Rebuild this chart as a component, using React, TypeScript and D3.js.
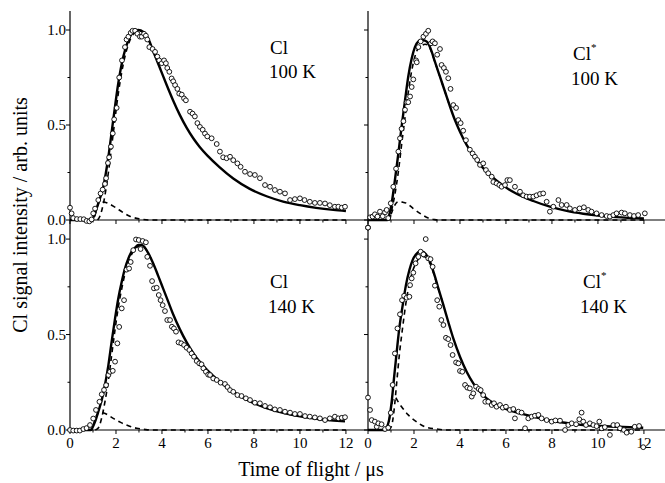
import React from 'react';
import * as d3 from 'd3';

type Pt = [number, number];

// ---- axis ticks ----
const TIME_TICKS = [0, 1, 2, 3, 4, 5, 6, 7, 8, 9, 10, 11, 12];
const TIME_LABELS = [0, 2, 4, 6, 8, 10, 12];
const SIGNAL_TICKS = [0, 0.25, 0.5, 0.75, 1.0];
const SIGNAL_LABELS = [0, 0.5, 1.0];

// ---- Cl, 100 K ----
const CL_100_DATA: Pt[] = [
  [0, 0.065], [0.07, 0.035], [0.14, 0.01], [0.3, 0.005], [0.45, 0.005], [0.6, 0.004], [0.72, -0.005], [0.84, -0.007],
  [0.94, 0.003], [1.01, 0.035], [1.09, 0.06], [1.23, 0.105], [1.33, 0.14], [1.42, 0.16], [1.52, 0.19], [1.57, 0.22],
  [1.65, 0.3], [1.7, 0.33], [1.78, 0.386], [1.86, 0.456], [1.92, 0.53], [2.03, 0.59], [2.14, 0.75], [2.26, 0.84],
  [2.39, 0.91], [2.46, 0.95], [2.54, 0.965], [2.64, 0.985], [2.72, 0.996], [2.83, 0.996], [2.93, 0.98], [3.04, 0.965],
  [3.12, 0.965], [3.22, 0.98], [3.3, 0.97], [3.36, 0.95], [3.45, 0.91], [3.59, 0.9], [3.7, 0.885], [3.8, 0.86],
  [3.88, 0.84], [3.99, 0.825], [4.09, 0.84], [4.17, 0.825], [4.23, 0.8], [4.32, 0.78], [4.42, 0.745], [4.49, 0.73],
  [4.57, 0.71], [4.67, 0.69], [4.75, 0.665], [4.86, 0.66], [4.96, 0.64], [5.04, 0.63], [5.22, 0.57], [5.33, 0.56],
  [5.43, 0.545], [5.54, 0.51], [5.65, 0.49], [5.77, 0.475], [5.87, 0.455], [5.97, 0.44], [6.16, 0.43], [6.38, 0.4],
  [6.52, 0.36], [6.66, 0.33], [6.81, 0.325], [6.96, 0.333], [7.1, 0.315], [7.28, 0.298], [7.42, 0.28], [7.61, 0.254],
  [7.83, 0.242], [8.04, 0.237], [8.26, 0.22], [8.48, 0.184], [8.7, 0.175], [8.91, 0.158], [9.13, 0.149], [9.35, 0.14],
  [9.57, 0.105], [9.78, 0.11], [10.0, 0.114], [10.2, 0.105], [10.43, 0.096], [10.65, 0.09], [10.87, 0.09], [11.09, 0.087],
  [11.3, 0.078], [11.52, 0.07], [11.67, 0.07], [11.82, 0.065], [11.96, 0.07],
];
const CL_100_FIT: Pt[] = [
  [0, 0], [0.95, 0], [1.0, 0.01], [1.23, 0.088], [1.45, 0.175], [1.67, 0.333], [1.88, 0.526], [2.1, 0.72], [2.32, 0.86],
  [2.54, 0.947], [2.75, 0.99], [2.97, 1.0], [3.19, 0.99], [3.41, 0.952], [3.62, 0.888], [3.91, 0.8], [4.2, 0.712],
  [4.49, 0.628], [4.78, 0.552], [5.07, 0.486], [5.36, 0.43], [5.65, 0.383], [6.0, 0.336], [6.5, 0.278], [7.1, 0.218],
  [7.8, 0.165], [8.55, 0.125], [9.27, 0.097], [10.0, 0.078], [10.7, 0.064], [11.45, 0.053], [12.0, 0.047],
];
const CL_100_FAST: Pt[] = [
  [0, 0], [1.0, 0], [1.1, 0.03], [1.2, 0.075], [1.3, 0.093], [1.45, 0.095], [1.65, 0.088], [1.95, 0.068], [2.3, 0.04],
  [2.6, 0.02], [3.0, 0.006], [3.5, 0], [12, 0],
];
const CL_100_SLOW: Pt[] = [
  [1.2, 0], [1.3, 0.02], [1.45, 0.085], [1.67, 0.25], [1.88, 0.455], [2.1, 0.665], [2.32, 0.822], [2.54, 0.925],
  [2.75, 0.978], [2.97, 0.995], [3.19, 0.988], [3.41, 0.952], [3.62, 0.888],
];

// ---- Cl*, 100 K ----
const CLS_100_DATA: Pt[] = [
  [0, -0.04], [0.09, 0.014], [0.2, 0.018], [0.3, 0.03], [0.41, 0.018], [0.52, 0.044], [0.64, 0.02], [0.74, 0.04],
  [0.81, 0.053], [0.88, 0.01], [0.99, 0.088], [1.1, 0.175], [1.22, 0.27], [1.32, 0.36], [1.39, 0.43], [1.46, 0.48],
  [1.54, 0.52], [1.61, 0.58], [1.68, 0.62], [1.75, 0.62], [1.83, 0.65], [1.9, 0.7], [1.97, 0.74], [2.09, 0.84],
  [2.12, 0.83], [2.19, 0.91], [2.29, 0.94], [2.41, 0.965], [2.52, 0.98], [2.62, 0.996], [2.74, 0.93], [2.81, 0.94],
  [2.91, 0.93], [3.01, 0.87], [3.13, 0.9], [3.2, 0.816], [3.3, 0.8], [3.39, 0.78], [3.49, 0.746], [3.59, 0.69],
  [3.71, 0.605], [3.83, 0.59], [3.93, 0.526], [4.03, 0.51], [4.14, 0.47], [4.26, 0.42], [4.43, 0.37], [4.55, 0.35],
  [4.65, 0.333], [4.75, 0.316], [4.87, 0.29], [5.01, 0.298], [5.13, 0.263], [5.23, 0.246], [5.38, 0.228], [5.45, 0.2],
  [5.59, 0.193], [5.71, 0.184], [5.81, 0.175], [5.96, 0.184], [6.06, 0.21], [6.17, 0.21], [6.39, 0.175], [6.61, 0.149],
  [6.75, 0.13], [6.9, 0.123], [7.04, 0.123], [7.19, 0.123], [7.33, 0.13], [7.48, 0.137], [7.62, 0.14], [7.77, 0.096],
  [7.91, 0.044], [8.06, 0.07], [8.28, 0.105], [8.42, 0.079], [8.64, 0.079], [8.78, 0.061], [9.0, 0.053], [9.2, 0.061],
  [9.39, 0.067], [9.58, 0.053], [9.72, 0.044], [9.94, 0.035], [10.16, 0.026], [10.38, 0.021], [10.52, 0.018],
  [10.67, 0.026], [10.81, 0.035], [11.03, 0.039], [11.17, 0.035], [11.39, 0.026], [11.57, 0.021], [11.75, 0.026],
  [12.04, 0.035],
];
const CLS_100_FIT: Pt[] = [
  [0, 0], [0.85, 0], [0.93, 0.03], [1.03, 0.088], [1.17, 0.21], [1.32, 0.35], [1.46, 0.49], [1.61, 0.63], [1.75, 0.754],
  [1.9, 0.85], [2.04, 0.91], [2.19, 0.94], [2.33, 0.947], [2.48, 0.944], [2.62, 0.93], [2.77, 0.886], [2.91, 0.833],
  [3.13, 0.754], [3.35, 0.675], [3.57, 0.596], [3.78, 0.526], [4.0, 0.465], [4.29, 0.395], [4.58, 0.34], [4.87, 0.292],
  [5.16, 0.254], [5.45, 0.222], [5.74, 0.194], [6.1, 0.163], [6.46, 0.138], [7.19, 0.1], [7.91, 0.07], [8.64, 0.048],
  [9.36, 0.033], [10.1, 0.022], [10.8, 0.015], [12.0, 0.008],
];
const CLS_100_FAST: Pt[] = [
  [0, 0], [0.9, 0], [1.0, 0.03], [1.1, 0.06], [1.2, 0.085], [1.32, 0.096], [1.5, 0.094], [1.68, 0.088], [1.97, 0.06],
  [2.33, 0.03], [2.62, 0.01], [2.9, 0.002], [3.2, 0], [12, 0],
];
const CLS_100_SLOW: Pt[] = [
  [0.95, 0], [1.03, 0.05], [1.17, 0.135], [1.32, 0.254], [1.46, 0.395], [1.61, 0.54], [1.75, 0.67], [1.9, 0.785],
  [2.04, 0.86], [2.19, 0.905], [2.33, 0.918], [2.48, 0.925], [2.62, 0.92], [2.77, 0.883], [2.91, 0.832], [3.13, 0.754],
  [3.35, 0.675], [3.57, 0.596],
];

// ---- Cl, 140 K ----
const CL_140_DATA: Pt[] = [
  [0, 0], [0.14, -0.003], [0.29, -0.003], [0.43, -0.003], [0.58, 0.005], [0.72, 0.01], [0.87, 0.026], [1.01, 0.06],
  [1.13, 0.105], [1.28, 0.148], [1.38, 0.187], [1.48, 0.21], [1.57, 0.235], [1.67, 0.288], [1.74, 0.305], [1.86, 0.31],
  [1.96, 0.358], [2.06, 0.454], [2.14, 0.54], [2.25, 0.637], [2.35, 0.68], [2.46, 0.84], [2.57, 0.846], [2.64, 0.88],
  [2.75, 0.942], [2.87, 0.998], [2.99, 0.995], [3.07, 0.948], [3.16, 0.99], [3.3, 0.983], [3.36, 0.907], [3.48, 0.86],
  [3.57, 0.78], [3.65, 0.742], [3.77, 0.745], [3.86, 0.707], [3.94, 0.68], [4.03, 0.654], [4.13, 0.623], [4.23, 0.576],
  [4.35, 0.576], [4.43, 0.541], [4.52, 0.532], [4.61, 0.515], [4.72, 0.459], [4.84, 0.454], [4.96, 0.445], [5.07, 0.431],
  [5.19, 0.419], [5.29, 0.401], [5.39, 0.384], [5.51, 0.361], [5.62, 0.349], [5.72, 0.344], [5.8, 0.323], [5.91, 0.305],
  [6.01, 0.29], [6.09, 0.288], [6.23, 0.27], [6.38, 0.262], [6.55, 0.248], [6.74, 0.241], [6.85, 0.225], [6.96, 0.209],
  [7.1, 0.2], [7.28, 0.183], [7.46, 0.178], [7.65, 0.166], [7.83, 0.157], [8.04, 0.143], [8.26, 0.14], [8.48, 0.126],
  [8.7, 0.119], [8.91, 0.108], [9.13, 0.105], [9.35, 0.096], [9.57, 0.091], [9.78, 0.084], [10.0, 0.084], [10.22, 0.073],
  [10.43, 0.07], [10.65, 0.066], [10.87, 0.061], [11.09, 0.052], [11.3, 0.061], [11.52, 0.07], [11.67, 0.061],
  [11.82, 0.064], [11.96, 0.067],
];
const CL_140_FIT: Pt[] = [
  [0, 0], [0.9, 0], [0.94, 0.005], [1.09, 0.044], [1.23, 0.096], [1.38, 0.157], [1.52, 0.236], [1.67, 0.34], [1.81, 0.462],
  [1.96, 0.585], [2.1, 0.689], [2.25, 0.777], [2.39, 0.846], [2.54, 0.899], [2.68, 0.934], [2.83, 0.955], [2.97, 0.969],
  [3.12, 0.969], [3.26, 0.955], [3.41, 0.925], [3.62, 0.872], [3.84, 0.806], [4.06, 0.738], [4.28, 0.67], [4.49, 0.605],
  [4.78, 0.527], [5.07, 0.46], [5.36, 0.403], [5.65, 0.356], [6.0, 0.31], [6.5, 0.255], [7.1, 0.2], [7.83, 0.15],
  [8.55, 0.115], [9.27, 0.09], [10.0, 0.072], [10.72, 0.059], [11.45, 0.05], [11.96, 0.045],
];
const CL_140_FAST: Pt[] = [
  [0, 0], [0.95, 0], [1.05, 0.04], [1.15, 0.075], [1.3, 0.095], [1.5, 0.088], [1.88, 0.061], [2.2, 0.04], [2.46, 0.026],
  [2.9, 0.009], [3.3, 0.002], [3.6, 0], [12, 0],
];
const CL_140_SLOW: Pt[] = [
  [1.1, 0], [1.23, 0.01], [1.38, 0.064], [1.52, 0.148], [1.67, 0.26], [1.81, 0.39], [1.96, 0.527], [2.1, 0.642],
  [2.25, 0.74], [2.39, 0.818], [2.54, 0.88], [2.68, 0.92], [2.83, 0.945], [2.97, 0.963], [3.12, 0.966], [3.26, 0.953],
  [3.41, 0.924], [3.62, 0.872],
];

// ---- Cl*, 140 K ----
const CLS_140_DATA: Pt[] = [
  [0, 1.06], [0, 0.17], [0.09, 0.105], [0.16, 0.052], [0.3, 0.044], [0.38, 0.017], [0.45, 0.035], [0.59, 0.03],
  [0.74, 0.005], [0.88, 0.012], [0.99, 0.09], [1.07, 0.236], [1.17, 0.401], [1.28, 0.532], [1.39, 0.606], [1.48, 0.68],
  [1.57, 0.703], [1.68, 0.693], [1.8, 0.698], [1.83, 0.759], [1.9, 0.794], [1.97, 0.824], [2.07, 0.873], [2.19, 0.907],
  [2.29, 0.934], [2.41, 0.92], [2.51, 1.0], [2.62, 0.899], [2.72, 0.895], [2.81, 0.855], [2.91, 0.756], [3.01, 0.68],
  [3.1, 0.646], [3.19, 0.576], [3.28, 0.55], [3.39, 0.483], [3.49, 0.476], [3.59, 0.445], [3.68, 0.393], [3.83, 0.354],
  [3.93, 0.349], [4.0, 0.309], [4.1, 0.305], [4.22, 0.236], [4.32, 0.222], [4.43, 0.218], [4.51, 0.175], [4.58, 0.192],
  [4.7, 0.227], [4.81, 0.215], [4.9, 0.209], [5.01, 0.183], [5.1, 0.148], [5.23, 0.148], [5.38, 0.131], [5.48, 0.14],
  [5.59, 0.122], [5.74, 0.131], [5.86, 0.117], [6.0, 0.122], [6.17, 0.105], [6.32, 0.11], [6.39, 0.061], [6.54, 0.096],
  [6.68, 0.091], [6.83, 0.009], [6.97, 0.061], [7.12, 0.07], [7.26, 0.075], [7.41, 0.079], [7.55, 0.061], [7.77, 0.052],
  [7.99, 0.044], [8.15, 0.05], [8.35, 0.049], [8.57, 0.0], [8.71, 0.026], [8.86, 0.035], [9.05, 0.03], [9.19, 0.056],
  [9.29, 0.091], [9.36, 0.044], [9.48, 0.026], [9.65, 0.035], [9.8, 0.026], [9.94, 0.02], [10.06, 0.044], [10.16, 0.009],
  [10.3, 0.015], [10.52, -0.026], [10.67, 0.026], [10.84, 0.026], [10.96, 0.009], [11.13, 0.0], [11.25, -0.014],
  [11.45, -0.009], [11.6, 0.017], [11.79, 0.021], [11.97, -0.09],
];
const CLS_140_FIT: Pt[] = [
  [0, 0], [0.75, 0], [0.78, 0.005], [0.93, 0.061], [1.03, 0.148], [1.13, 0.27], [1.25, 0.41], [1.36, 0.532], [1.51, 0.654],
  [1.65, 0.759], [1.8, 0.838], [1.94, 0.89], [2.09, 0.92], [2.23, 0.934], [2.38, 0.934], [2.52, 0.92], [2.7, 0.881],
  [2.87, 0.82], [3.06, 0.742], [3.28, 0.654], [3.49, 0.567], [3.71, 0.48], [4.0, 0.384], [4.29, 0.305], [4.58, 0.244],
  [4.87, 0.2], [5.16, 0.166], [5.45, 0.142], [5.74, 0.124], [6.1, 0.106], [6.46, 0.092], [7.19, 0.07], [7.91, 0.05],
  [8.64, 0.037], [9.36, 0.026], [10.1, 0.021], [10.8, 0.017], [11.97, 0.012],
];
const CLS_140_FAST: Pt[] = [
  [0, 0], [0.8, 0], [0.9, 0.04], [1.0, 0.11], [1.1, 0.165], [1.17, 0.172], [1.3, 0.15], [1.46, 0.122], [1.75, 0.079],
  [2.1, 0.044], [2.48, 0.017], [3.0, 0.005], [3.4, 0], [12, 0],
];
const CLS_140_SLOW: Pt[] = [
  [0.9, 0], [1.03, 0.023], [1.13, 0.1], [1.25, 0.25], [1.36, 0.39], [1.51, 0.54], [1.65, 0.666], [1.8, 0.766],
  [1.94, 0.832], [2.09, 0.875], [2.23, 0.9], [2.38, 0.909], [2.52, 0.904], [2.7, 0.871], [2.87, 0.814], [3.06, 0.739],
  [3.28, 0.654],
];

const FONT = "'Liberation Serif', 'Times New Roman', Times, serif";

const W = 665;
const H = 483;
const LEFT_X0 = 70;
const SPLIT_X = 368;
const RIGHT_X1 = 666;
const TOP_Y0 = 11;
const MID_Y = 220;
const BOT_Y = 430;

type PanelDef = {
  col: number;
  row: number;
  species: string;
  star: boolean;
  temp: string;
  data: Pt[];
  fit: Pt[];
  fast: Pt[];
  slow: Pt[];
  lx: number;
  ly: number;
  tx: number;
  ty: number;
};

const PANELS: PanelDef[] = [
  { col: 0, row: 0, species: 'Cl', star: false, temp: '100 K', data: CL_100_DATA, fit: CL_100_FIT, fast: CL_100_FAST, slow: CL_100_SLOW, lx: 270, ly: 54, tx: 269, ty: 78 },
  { col: 1, row: 0, species: 'Cl', star: true, temp: '100 K', data: CLS_100_DATA, fit: CLS_100_FIT, fast: CLS_100_FAST, slow: CLS_100_SLOW, lx: 573, ly: 60, tx: 571, ty: 85 },
  { col: 0, row: 1, species: 'Cl', star: false, temp: '140 K', data: CL_140_DATA, fit: CL_140_FIT, fast: CL_140_FAST, slow: CL_140_SLOW, lx: 270, ly: 288, tx: 268, ty: 313 },
  { col: 1, row: 1, species: 'Cl', star: true, temp: '140 K', data: CLS_140_DATA, fit: CLS_140_FIT, fast: CLS_140_FAST, slow: CLS_140_SLOW, lx: 583, ly: 288, tx: 580, ty: 313 },
];

function Panel({ p }: { p: PanelDef }) {
  const x0 = p.col === 0 ? LEFT_X0 : SPLIT_X;
  const x1 = p.col === 0 ? SPLIT_X : RIGHT_X1;
  const yTop = p.row === 0 ? TOP_Y0 : MID_Y;
  const yBot = p.row === 0 ? MID_Y : BOT_Y;
  const xs = d3.scaleLinear().domain([0, 12.96]).range([x0, x1]);
  const ys = d3.scaleLinear().domain([0, 1.1]).range([yBot, yTop]);
  const line = d3
    .line<Pt>()
    .x((d) => xs(d[0]))
    .y((d) => ys(d[1]))
    .curve(d3.curveMonotoneX);

  return (
    <g>
      {/* axes */}
      <line x1={x0} x2={x0} y1={yTop} y2={yBot} stroke="#000" strokeWidth={1.2} />
      <line x1={x0} x2={x1} y1={yBot} y2={yBot} stroke="#000" strokeWidth={1.2} />
      {TIME_TICKS.map((t) => (
        <line key={'xt' + t} x1={xs(t)} x2={xs(t)} y1={yBot} y2={yBot + (t % 2 === 0 ? 4 : 2.5)} stroke="#000" strokeWidth={1} />
      ))}
      {SIGNAL_TICKS.map((t) => {
        const major = Math.abs((t * 2) - Math.round(t * 2)) < 1e-6;
        return (
          <line key={'yt' + t} x1={x0} x2={x0 - (major ? 4 : 2.5)} y1={ys(t)} y2={ys(t)} stroke="#000" strokeWidth={1} />
        );
      })}
      {p.col === 0 &&
        SIGNAL_LABELS.map((t) => (
          <text key={'yl' + t} x={x0 - 4} y={ys(t) + 5} textAnchor="end" fontSize={15} fontFamily={FONT}>
            {t.toFixed(1)}
          </text>
        ))}
      {p.row === 1 &&
        TIME_LABELS.map((t) => (
          <text key={'xl' + t} x={xs(t)} y={yBot + 18} textAnchor="middle" fontSize={15} fontFamily={FONT}>
            {t}
          </text>
        ))}

      {/* model curves */}
      <path d={line(p.fast) || ''} fill="none" stroke="#000" strokeWidth={1.6} strokeDasharray="5,4" />
      <path d={line(p.slow) || ''} fill="none" stroke="#000" strokeWidth={1.6} strokeDasharray="5,4" />
      <path d={line(p.fit) || ''} fill="none" stroke="#000" strokeWidth={2.4} />

      {/* data */}
      {p.data.map((d, i) => (
        <circle key={i} cx={xs(d[0])} cy={ys(d[1])} r={2.4} fill="#fff" stroke="#000" strokeWidth={0.9} />
      ))}

      {/* labels */}
      <text x={p.lx} y={p.ly} fontSize={19} fontFamily={FONT}>
        {p.species}
        {p.star && (
          <tspan fontSize={11} dy={-9}>
            *
          </tspan>
        )}
      </text>
      <text x={p.tx} y={p.ty} fontSize={19} fontFamily={FONT}>
        {p.temp}
      </text>
    </g>
  );
}

export default function App() {
  return (
    <svg width={W} height={H} style={{ position: 'absolute', left: 0, top: 0, background: '#fff' }}>
      <rect x={0} y={0} width={W} height={H} fill="#fff" />
      {PANELS.map((p, i) => (
        <Panel key={i} p={p} />
      ))}
      <text transform="translate(27,215) rotate(-90)" textAnchor="middle" fontSize={20} fontFamily={FONT}>
        Cl signal intensity / arb. units
      </text>
      <text x={311} y={476} textAnchor="middle" fontSize={20} fontFamily={FONT}>
        Time of flight / μs
      </text>
    </svg>
  );
}
